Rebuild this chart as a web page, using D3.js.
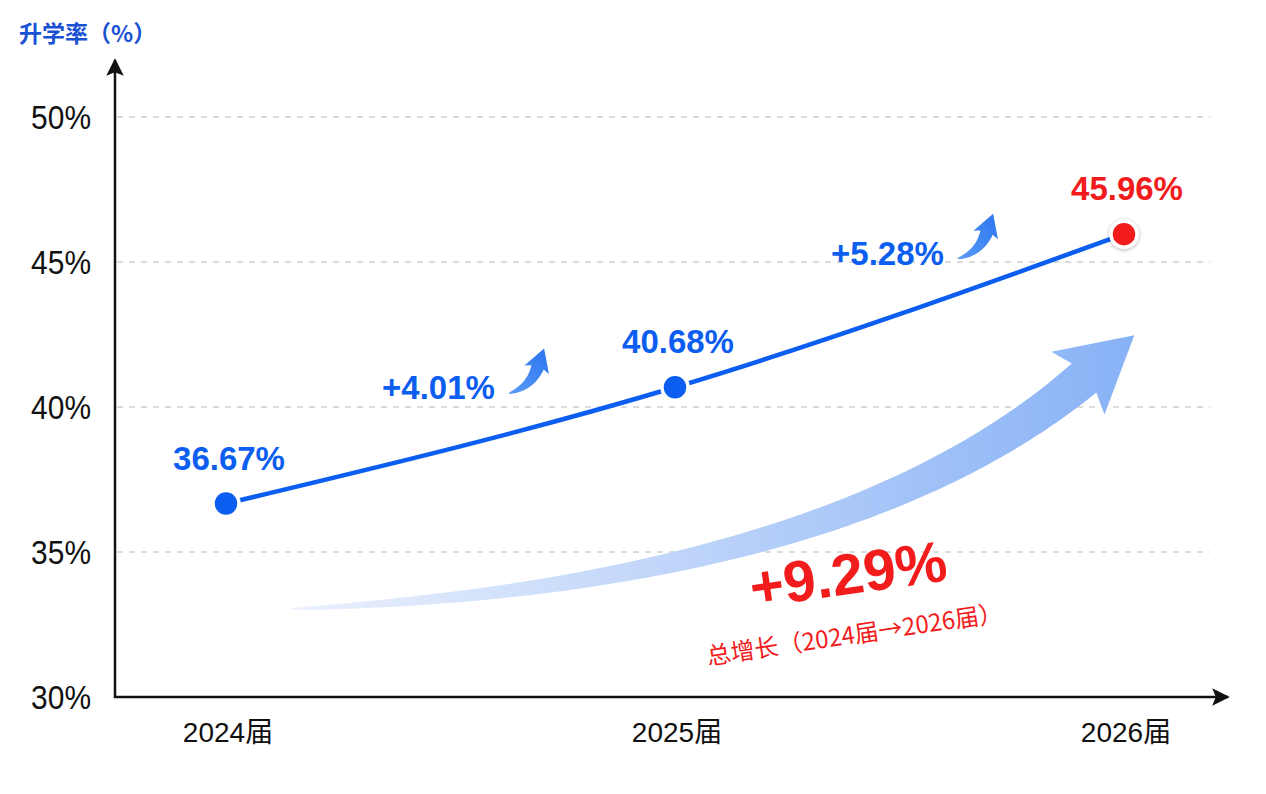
<!DOCTYPE html>
<html>
<head>
<meta charset="utf-8">
<script src="https://cdn.jsdelivr.net/npm/d3@7"></script>
<style>
  html, body { margin: 0; padding: 0; background: #fff; }
  svg { display: block; }
  .tick-y { font-family: "Liberation Sans", Arial, sans-serif; font-size: 34px; fill: #111; }
  .tick-x { font-family: "Liberation Sans", "Noto Sans CJK SC", sans-serif; font-size: 28px; fill: #111; }
  .bold { font-family: "Liberation Sans", Arial, "Noto Sans CJK SC", sans-serif; font-weight: bold; }
  .cjk { font-family: "Noto Sans CJK SC", sans-serif; }
</style>
</head>
<body>
<svg id="chart" width="1266" height="794"></svg>
<script>
  // values
  var categories = ["2024届", "2025届", "2026届"];
  var rates = [36.67, 40.68, 45.96];
  var rateLabels = ["36.67%", "40.68%", "45.96%"];
  var deltaLabels = ["+4.01%", "+5.28%"];
  var yTicks = [30, 35, 40, 45, 50];
  var totalLabel = "+9.29%";
  var totalNote = "总增长（2024届→2026届）";
  var axisTitle = "升学率（%）";

  var blue = "#0b5ef0";
  var red = "#f21c1c";

  var svg = d3.select("#chart");
  var defs = svg.append("defs");

  var x0 = 115, yBase = 697;
  var x = d3.scalePoint().domain(categories).range([226, 1124]);
  var y = d3.scaleLinear().domain([30, 50]).range([yBase, 117]);

  // gradients
  var gBig = defs.append("linearGradient").attr("id", "bigGrad")
    .attr("gradientUnits", "userSpaceOnUse")
    .attr("x1", 290).attr("y1", 0).attr("x2", 1130).attr("y2", 0);
  gBig.append("stop").attr("offset", "0%").attr("stop-color", "#ebf1fd");
  gBig.append("stop").attr("offset", "50%").attr("stop-color", "#bbd2f9");
  gBig.append("stop").attr("offset", "100%").attr("stop-color", "#88b2f6");

  var gSmall = defs.append("linearGradient").attr("id", "smallGrad")
    .attr("x1", "0%").attr("y1", "100%").attr("x2", "100%").attr("y2", "0%");
  gSmall.append("stop").attr("offset", "0%").attr("stop-color", "#5b9cf6");
  gSmall.append("stop").attr("offset", "100%").attr("stop-color", "#2a74ee");

  var shadow = defs.append("filter").attr("id", "shadow")
    .attr("x", "-50%").attr("y", "-50%").attr("width", "200%").attr("height", "200%");
  shadow.append("feDropShadow").attr("dx", 0).attr("dy", 1).attr("stdDeviation", 2)
    .attr("flood-color", "#000").attr("flood-opacity", 0.3);

  var arrowHead = defs.append("marker").attr("id", "axisArrow")
    .attr("viewBox", "0 0 10 10").attr("refX", 9).attr("refY", 5)
    .attr("markerWidth", 7).attr("markerHeight", 7).attr("markerUnits", "strokeWidth")
    .attr("orient", "auto");
  arrowHead.append("path").attr("d", "M0,0L10,5L0,10L2,5Z").attr("fill", "#111");

  // gridlines
  svg.append("g").selectAll("line")
    .data(yTicks.filter(function(t) { return t > 30; }))
    .enter().append("line")
    .attr("x1", x0 + 2).attr("x2", 1210)
    .attr("y1", function(d) { return y(d); })
    .attr("y2", function(d) { return y(d); })
    .attr("stroke", "#cfcfcf").attr("stroke-width", 1.3)
    .attr("stroke-dasharray", "6,6");

  // y tick labels, slightly condensed like the original
  svg.append("g").selectAll("text")
    .data(yTicks)
    .enter().append("text")
    .classed("tick-y", true)
    .attr("text-anchor", "end")
    .attr("transform", function(d) { return "translate(91," + (y(d) + 12) + ") scale(0.88,1)"; })
    .text(function(d) { return d + "%"; });

  // x tick labels
  svg.append("g").selectAll("text")
    .data(categories)
    .enter().append("text")
    .classed("tick-x", true)
    .attr("x", function(d) { return x(d) + 2; })
    .attr("y", 742)
    .attr("text-anchor", "middle")
    .text(function(d) { return d; });

  // axes with arrows
  svg.append("line").attr("x1", x0).attr("y1", yBase + 1).attr("x2", x0).attr("y2", 60)
    .attr("stroke", "#111").attr("stroke-width", 2.5).attr("marker-end", "url(#axisArrow)");
  svg.append("line").attr("x1", x0 - 1).attr("y1", yBase).attr("x2", 1228).attr("y2", yBase)
    .attr("stroke", "#111").attr("stroke-width", 2.5).attr("marker-end", "url(#axisArrow)");

  svg.append("text").classed("cjk", true)
    .attr("x", 19).attr("y", 42)
    .attr("font-size", 23).attr("font-weight", "bold")
    .attr("fill", "#1a50d2")
    .text(axisTitle);

  // tapered curved arrow built along a quadratic bezier
  function taperedArrow(p0, c, p2, w0, w1, headLen, headHalf) {
    var left = [], right = [];
    var n = 60;
    function pt(t) {
      var a = (1 - t) * (1 - t), b = 2 * (1 - t) * t, e = t * t;
      return [a * p0[0] + b * c[0] + e * p2[0], a * p0[1] + b * c[1] + e * p2[1]];
    }
    function tan(t) {
      var dx = 2 * (1 - t) * (c[0] - p0[0]) + 2 * t * (p2[0] - c[0]);
      var dy = 2 * (1 - t) * (c[1] - p0[1]) + 2 * t * (p2[1] - c[1]);
      var l = Math.sqrt(dx * dx + dy * dy);
      return [dx / l, dy / l];
    }
    for (var i = 0; i <= n; i++) {
      var t = i / n;
      var p = pt(t), d = tan(t);
      var w = (w0 + (w1 - w0) * Math.pow(t, 0.7)) / 2;
      left.push([p[0] - d[1] * w, p[1] + d[0] * w]);
      right.push([p[0] + d[1] * w, p[1] - d[0] * w]);
    }
    var de = tan(1);
    var tip = [p2[0] + de[0] * headLen, p2[1] + de[1] * headLen];
    var back = [p2[0] - de[0] * headLen * 0.12, p2[1] - de[1] * headLen * 0.12];
    var bl = [back[0] - de[1] * headHalf, back[1] + de[0] * headHalf];
    var br = [back[0] + de[1] * headHalf, back[1] - de[0] * headHalf];
    var pts = left.concat([bl, tip, br]).concat(right.reverse());
    return d3.line()(pts) + "Z";
  }

  // big total-growth arrow
  svg.append("path")
    .attr("d", taperedArrow([290, 609], [840, 585], [1084, 378], 1, 38, 66, 41))
    .attr("fill", "url(#bigGrad)");

  // main line
  var pts = categories.map(function(c, i) { return [x(c), y(rates[i])]; });
  svg.append("path")
    .datum(pts)
    .attr("d", d3.line().curve(d3.curveMonotoneX))
    .attr("fill", "none")
    .attr("stroke", blue)
    .attr("stroke-width", 4.5)
    .attr("stroke-linecap", "round");

  // delta labels with small arrows
  var gDelta = svg.append("g").selectAll("g")
    .data(deltaLabels)
    .enter().append("g")
    .attr("transform", function(d, i) {
      var mx = (pts[i][0] + pts[i + 1][0]) / 2 - 12;
      var my = (pts[i][1] + pts[i + 1][1]) / 2 - 46;
      return "translate(" + mx + "," + my + ")";
    });
  gDelta.append("text").classed("bold", true)
    .attr("text-anchor", "middle")
    .attr("font-size", 33)
    .attr("fill", blue)
    .text(function(d) { return d; });
  gDelta.append("path")
    .attr("d", taperedArrow([70, -6], [92, -12], [99, -32], 0.5, 13, 20, 13))
    .attr("fill", "url(#smallGrad)");

  // dots
  svg.append("g").selectAll("circle")
    .data(pts)
    .enter().append("circle")
    .attr("cx", function(d) { return d[0]; })
    .attr("cy", function(d) { return d[1]; })
    .attr("r", 13)
    .attr("fill", function(d, i) { return i === pts.length - 1 ? red : blue; })
    .attr("stroke", "#fff")
    .attr("stroke-width", 3.5)
    .attr("filter", function(d, i) { return i === pts.length - 1 ? "url(#shadow)" : null; });

  // value labels
  svg.append("g").selectAll("text")
    .data(rateLabels)
    .enter().append("text")
    .classed("bold", true)
    .attr("x", function(d, i) { return pts[i][0] + 3; })
    .attr("y", function(d, i) { return pts[i][1] - 34; })
    .attr("text-anchor", "middle")
    .attr("font-size", 33)
    .attr("fill", function(d, i) { return i === rateLabels.length - 1 ? red : blue; })
    .text(function(d) { return d; });

  // total growth
  svg.append("text").classed("bold", true)
    .attr("x", 851).attr("y", 594)
    .attr("text-anchor", "middle")
    .attr("font-size", 58)
    .attr("fill", red)
    .attr("transform", "rotate(-8,851,594)")
    .text(totalLabel);
  svg.append("text").classed("cjk", true)
    .attr("x", 856).attr("y", 643)
    .attr("text-anchor", "middle")
    .attr("font-size", 24)
    .attr("fill", red)
    .attr("transform", "rotate(-8.5,856,643)")
    .text(totalNote);
</script>
</body>
</html>
